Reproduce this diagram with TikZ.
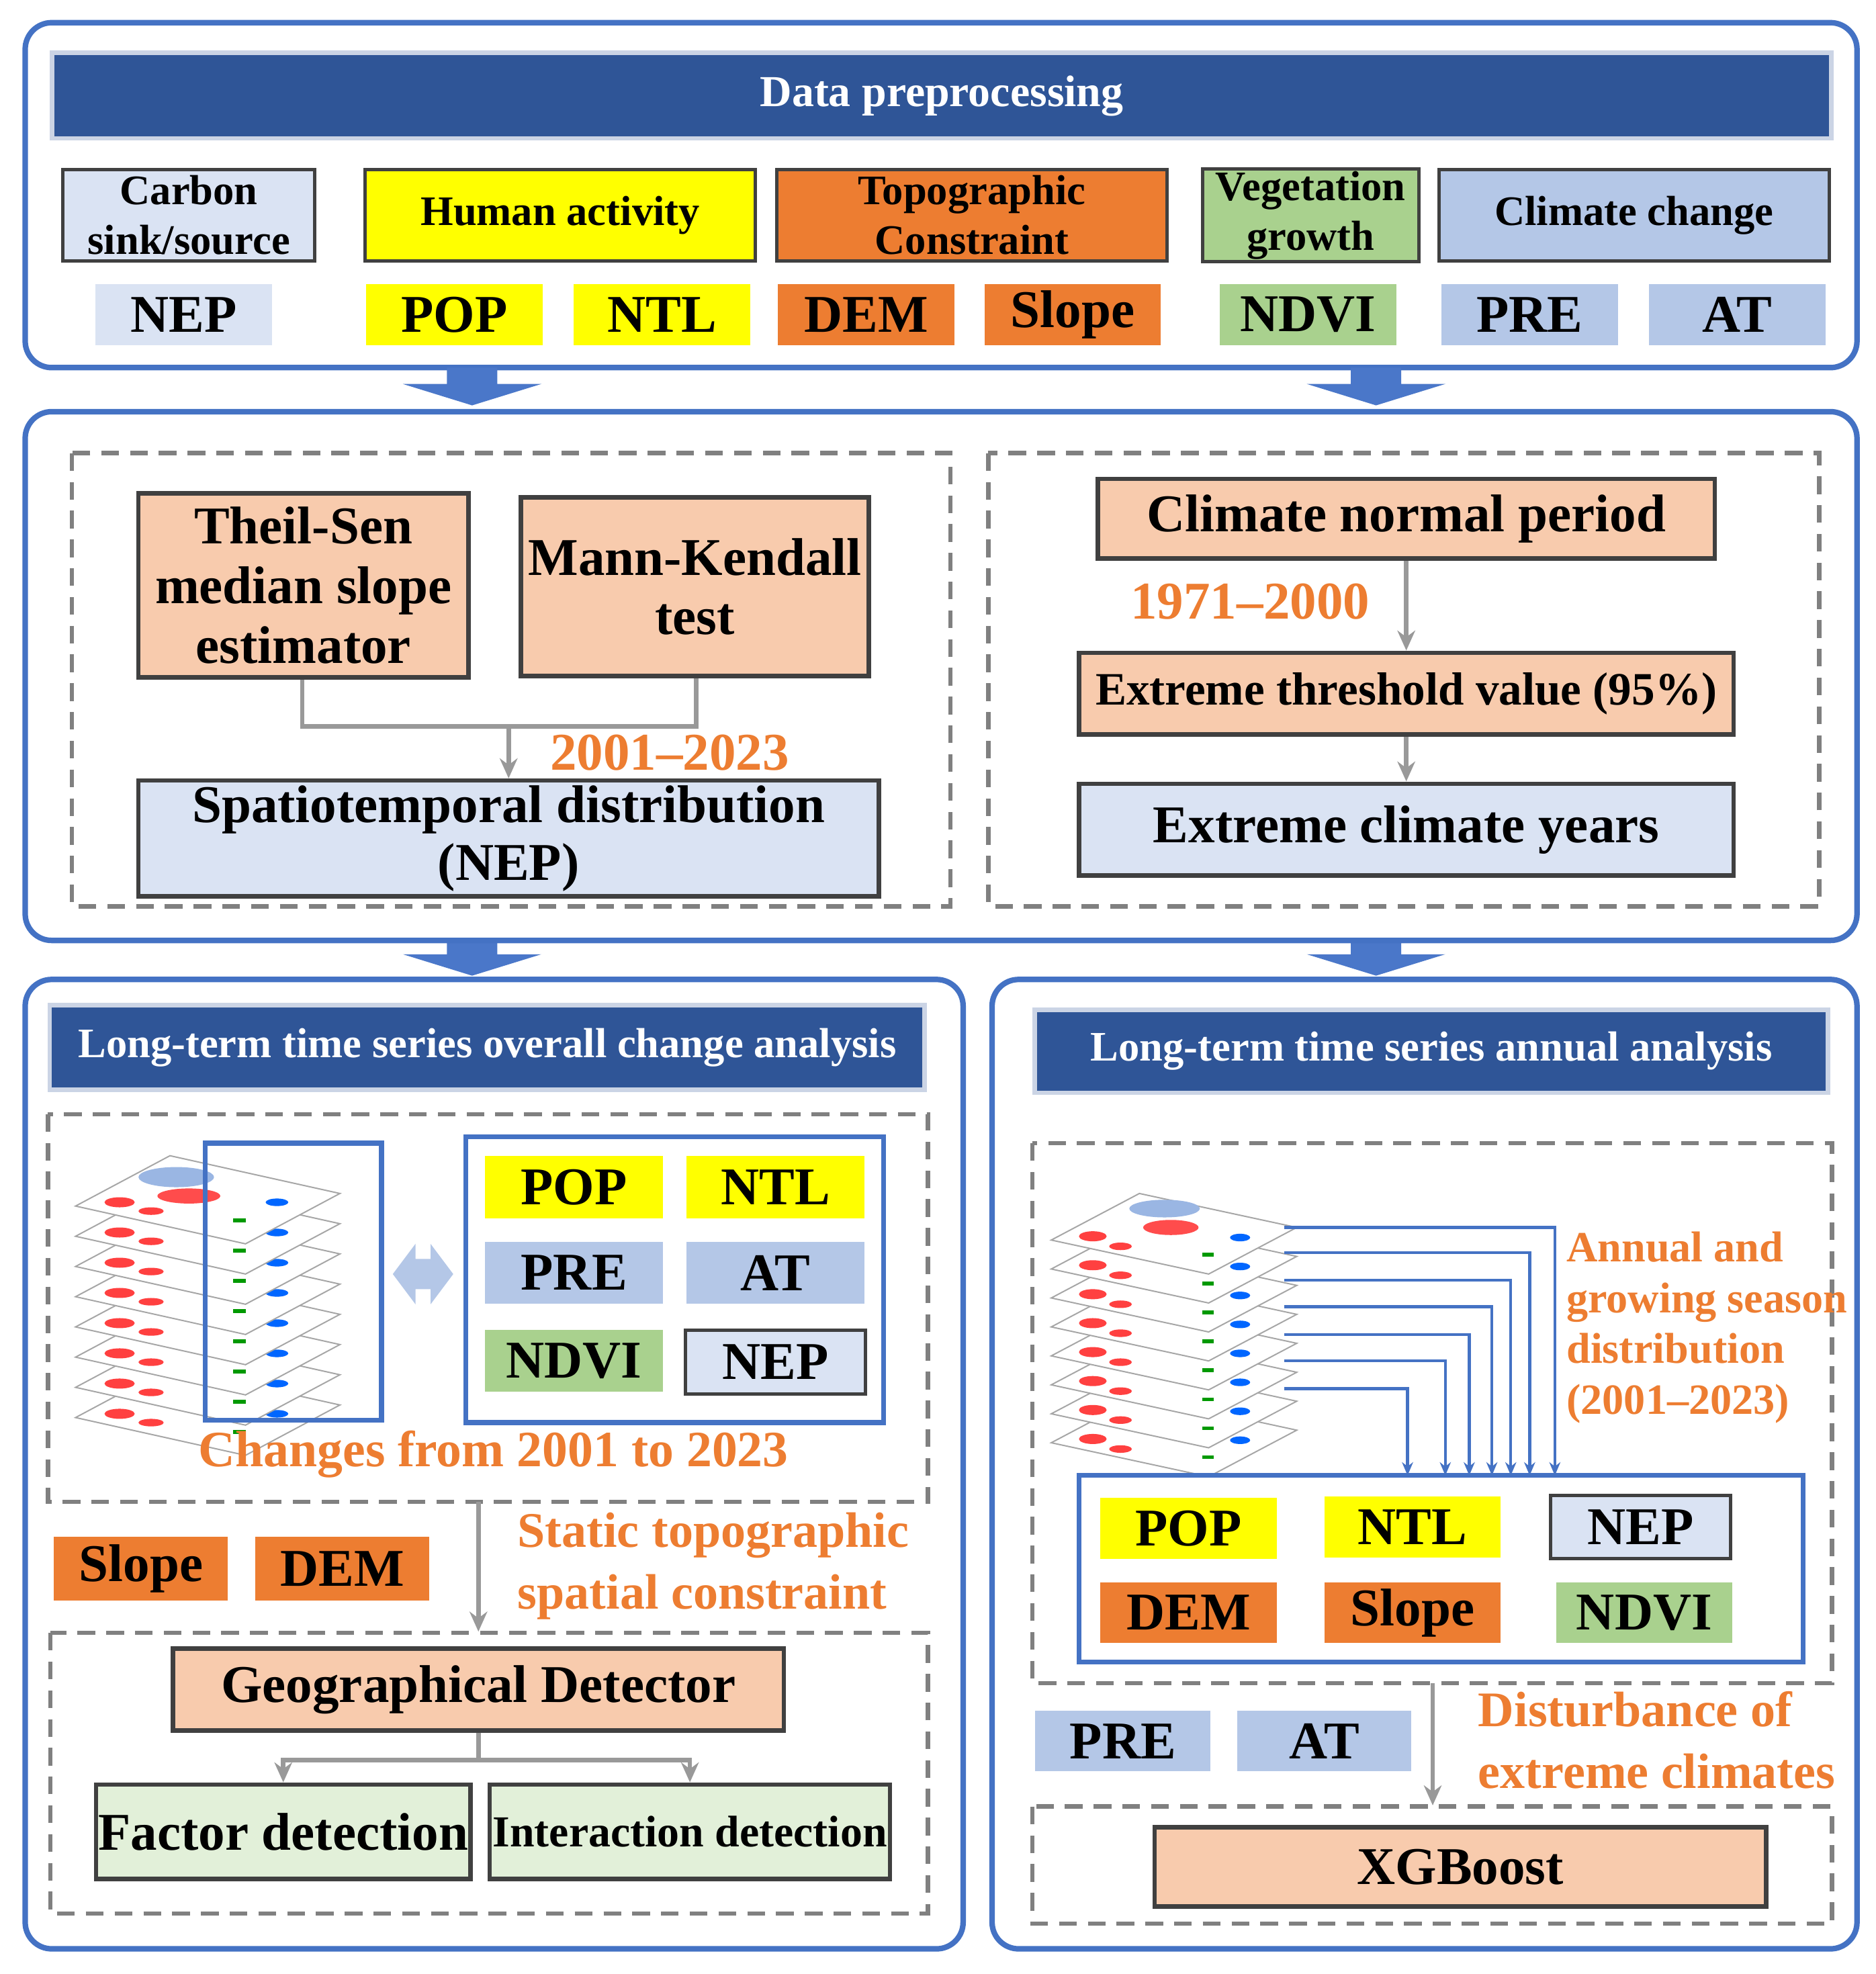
\documentclass[tikz,border=0pt]{standalone}
\usepackage{fontspec}
\setmainfont{Liberation Serif}
\usetikzlibrary{arrows.meta}
\begin{document}
\begin{tikzpicture}[x=0.02cm,y=-0.02cm,
 outer/.style={draw=ob,line width=2.5pt,rounded corners=12pt},
 hdr/.style={fill=hblue,draw=hblue!25,line width=2pt,text=white,font=\bfseries\fontsize{19}{22}\selectfont},
 b/.style={line width=2pt,draw=dgray,font=\bfseries\fontsize{24}{27}\selectfont,align=center},
 v/.style={font=\bfseries\fontsize{24}{26}\selectfont,draw=white,line width=1pt},
 c/.style={line width=1.5pt,draw=dgray,font=\bfseries\fontsize{19}{22.5}\selectfont,align=center,inner sep=1pt},
 dbox/.style={draw=gray,line width=2pt,dash pattern=on 8pt off 5pt},
 org/.style={text=orgt,font=\bfseries\fontsize{22}{24}\selectfont},
 gl/.style={draw=gray!80,line width=2pt},
 ga/.style={gl,-{Stealth[length=9pt,width=8pt]}},
 ba/.style={draw=ob,line width=1.3pt,-{Stealth[length=6pt,width=5pt]}},
 frm/.style={draw=ob,line width=2.2pt}]
\definecolor{hblue}{HTML}{2F5597}
\definecolor{ob}{HTML}{4472C4}
\definecolor{dgray}{HTML}{404040}
\definecolor{lb}{HTML}{DAE3F3}
\definecolor{yl}{HTML}{FFFF00}
\definecolor{og}{HTML}{ED7D31}
\definecolor{gr}{HTML}{A9D18E}
\definecolor{cl}{HTML}{B4C7E7}
\definecolor{pk}{HTML}{F8CBAD}
\definecolor{lg}{HTML}{E2F0D9}
\definecolor{orgt}{HTML}{ED7D31}
\definecolor{ab}{HTML}{4A77C9}
\useasboundingbox (0,0) rectangle (1490,1568);
\fill[white] (0,0) rectangle (1490,1568);
% --- box 1
\draw[outer] (20,18) rectangle (1475,292);
\node[hdr,font=\bfseries\fontsize{20}{22}\selectfont,minimum width=1413*0.02cm,minimum height=68*0.02cm] (h1) at (748,76) {Data preprocessing};
\node[c,fill=lb,minimum width=200*0.02cm,minimum height=73*0.02cm] (c1) at (150,171) {Carbon\\sink/source};
\node[c,fill=yl,minimum width=310*0.02cm,minimum height=73*0.02cm] (c2) at (445,171) {Human activity};
\node[c,fill=og,minimum width=310*0.02cm,minimum height=73*0.02cm] (c3) at (772,171) {Topographic\\Constraint};
\node[c,fill=gr,minimum width=172*0.02cm,minimum height=73*0.02cm] (c4) at (1041,171) {Vegetation\\growth};
\node[c,fill=cl,minimum width=310*0.02cm,minimum height=73*0.02cm] (c5) at (1298,171) {Climate change};
\foreach \n/\x/\col/\t in {v1/146/lb/NEP,v2/361/yl/POP,v3/526/yl/NTL,v4/688/og/DEM,v5/852/og/Slope,v6/1039/gr/NDVI,v7/1215/cl/PRE,v8/1380/cl/AT}
 \node[v,fill=\col,minimum width=142*0.02cm,minimum height=50*0.02cm] (\n) at (\x,250) {\t};
% down arrows
\foreach \x/\y in {375/292,1093/292,375/745,1093/745}
 \fill[ab] (\x-20,\y) rectangle (\x+20,\y+13) (\x-55,\y+13) -- (\x+55,\y+13) -- (\x,\y+30) -- cycle;
% --- box 2
\draw[outer] (20,327) rectangle (1475,747);
\draw[dbox] (57,360) rectangle (755,720);
\draw[dbox] (785,360) rectangle (1445,720);
\node[b,fill=pk,minimum width=262*0.02cm,minimum height=146*0.02cm,inner sep=1pt] (ts) at (241,465) {Theil-Sen\\median slope\\estimator};
\node[b,fill=pk,minimum width=271*0.02cm,minimum height=142*0.02cm] (mk) at (552,466) {Mann-Kendall\\test};
\node[b,fill=lb,font=\bfseries\fontsize{24}{26}\selectfont,minimum width=588*0.02cm,minimum height=92*0.02cm,inner sep=1pt] (sd) at (404,666) {Spatiotemporal distribution\\(NEP)};
\coordinate (j1) at (404,577);
\draw[gl] (ts.south -| 240,0) |- (j1) -| (mk.south -| 553,0);
\draw[ga] (j1) -- (sd.north);
\node[org,font=\bfseries\fontsize{24}{26}\selectfont] (y1) at (532,598) {2001–2023};
\node[b,fill=pk,minimum width=490*0.02cm,minimum height=63*0.02cm] (cn) at (1117,412) {Climate normal period};
\node[b,fill=pk,font=\bfseries\fontsize{21}{24}\selectfont,minimum width=520*0.02cm,minimum height=65*0.02cm] (et) at (1117,551) {Extreme threshold value (95\%)};
\node[b,fill=lb,minimum width=520*0.02cm,minimum height=73*0.02cm] (ey) at (1117,659) {Extreme climate years};
\draw[ga] (cn) -- (et);
\draw[ga] (et) -- (ey);
\node[org,font=\bfseries\fontsize{24}{26}\selectfont] (y2) at (993,478) {1971–2000};
% --- box 3 / 4
\draw[outer] (20,778) rectangle (765,1548);
\draw[outer] (788,778) rectangle (1475,1548);
\node[hdr,minimum width=695*0.02cm,minimum height=67*0.02cm] (h2) at (387,832) {Long-term time series overall change analysis};
\node[hdr,minimum width=630*0.02cm,minimum height=66*0.02cm] (h3) at (1137,835) {Long-term time series annual analysis};
% left content
\draw[dbox] (38,885) rectangle (737,1193);
\foreach \i in {7,...,0}{
 \begin{scope}[shift={(0,\i*24)}]
 \filldraw[fill=white,draw=gray!70,line width=0.6pt] (60,958) -- (135,918) -- (270,948) -- (195,988) -- cycle;
 \fill[red!75] (95,955) ellipse (12 and 4) (120,962) ellipse (10 and 3);
 \fill[blue!60!cyan] (220,955) ellipse (9 and 3);
 \fill[green!60!black] (185,968) rectangle (195,971);
 \end{scope}}
\fill[cyan!50!blue!40] (140,935) ellipse (30 and 8);
\fill[red!70] (150,950) ellipse (25 and 6);
\draw[frm] (163,908) rectangle (303,1128);
\fill[cl] (312,1012) -- (330,988) -- (330,1000) -- (342,1000) -- (342,988) -- (360,1012) -- (342,1036) -- (342,1024) -- (330,1024) -- (330,1036) -- cycle;
\draw[frm] (370,903) rectangle (702,1130);
\foreach \n/\x/\y/\col/\t in {p1/456/943/yl/POP,p2/616/943/yl/NTL,p3/456/1011/cl/PRE,p4/616/1011/cl/AT,p5/456/1081/gr/NDVI}
 \node[v,fill=\col,minimum width=143*0.02cm,minimum height=51*0.02cm] (\n) at (\x,\y) {\t};
\node[v,fill=lb,draw=dgray,line width=1.5pt,minimum width=143*0.02cm,minimum height=51*0.02cm] (p6) at (616,1082) {NEP};
\node[org,font=\bfseries\fontsize{23}{26}\selectfont] (ch) at (392,1155) {Changes from 2001 to 2023};
\node[v,fill=og,minimum width=140*0.02cm,minimum height=52*0.02cm] (s1) at (112,1246) {Slope};
\node[v,fill=og,minimum width=140*0.02cm,minimum height=52*0.02cm] (s2) at (272,1246) {DEM};
\coordinate (la) at (380,1193);
\coordinate (lb2) at (380,1296);
\draw[ga] (la) -- (lb2);
\node[org,anchor=west,align=left,font=\bfseries\fontsize{22.5}{28}\selectfont] (st) at (405,1244) {Static topographic\\spatial constraint};
\draw[dbox] (40,1297) rectangle (737,1520);
\node[b,fill=pk,minimum width=485*0.02cm,minimum height=65*0.02cm] (gd) at (380,1342) {Geographical Detector};
\node[b,fill=lg,minimum width=294*0.02cm,minimum height=75*0.02cm,inner sep=1pt] (fd) at (225,1455) {Factor detection};
\node[b,fill=lg,font=\bfseries\fontsize{20}{22}\selectfont,minimum width=318*0.02cm,minimum height=75*0.02cm,inner sep=1pt] (id) at (548,1455) {Interaction detection};
\coordinate (j2) at (380,1398);
\draw[gl] (gd.south) -- (j2);
\draw[ga] (j2) -| (fd.north);
\draw[ga] (j2) -| (id.north);
% right content
\draw[dbox] (820,908) rectangle (1455,1337);
\foreach \i in {7,...,0}{
 \begin{scope}[shift={(0,\i*23)}]
 \filldraw[fill=white,draw=gray!70,line width=0.6pt] (835,985) -- (905,948) -- (1030,975) -- (960,1012) -- cycle;
 \fill[red!75] (868,982) ellipse (11 and 4) (890,990) ellipse (9 and 3);
 \fill[blue!60!cyan] (985,983) ellipse (8 and 3);
 \fill[green!60!black] (955,995) rectangle (964,998);
 \end{scope}}
\fill[cyan!50!blue!40] (925,960) ellipse (28 and 7);
\fill[red!70] (930,975) ellipse (22 and 6);
\draw[frm] (857,1172) rectangle (1432,1320);
\foreach \i/\y/\x in {0/975/1235,1/995/1215,2/1017/1200,3/1038/1185,4/1060/1167,5/1081/1148,6/1103/1118}{
 \coordinate (m\i) at (1020,\y);
 \coordinate (t\i) at (\x,1172);
 \draw[ba] (m\i) -| (t\i);}
\node[org,anchor=north west,align=left,font=\bfseries\fontsize{19.5}{23}\selectfont,inner sep=0pt] (an) at (1244,978) {Annual and\\growing season\\distribution\\(2001–2023)};
\foreach \n/\x/\y/\col/\t in {q1/944/1214/yl/POP,q2/1122/1213/yl/NTL,q4/944/1281/og/DEM,q5/1122/1281/og/Slope,q6/1306/1281/gr/NDVI}
 \node[v,fill=\col,minimum width=142*0.02cm,minimum height=50*0.02cm] (\n) at (\x,\y) {\t};
\node[v,fill=lb,draw=dgray,line width=1.5pt,minimum width=143*0.02cm,minimum height=50*0.02cm] (q3) at (1303,1213) {NEP};
\node[v,fill=cl,minimum width=141*0.02cm,minimum height=50*0.02cm] (r1) at (892,1383) {PRE};
\node[v,fill=cl,minimum width=140*0.02cm,minimum height=50*0.02cm] (r2) at (1052,1383) {AT};
\coordinate (ra) at (1138,1337);
\coordinate (rb) at (1138,1434);
\draw[ga] (ra) -- (rb);
\node[org,anchor=west,align=left,font=\bfseries\fontsize{22.5}{28}\selectfont] (di) at (1168,1382) {Disturbance of\\extreme climates};
\draw[dbox] (820,1435) rectangle (1455,1528);
\node[b,fill=pk,minimum width=486*0.02cm,minimum height=63*0.02cm] (xg) at (1160,1483) {XGBoost};
\end{tikzpicture}
\end{document}
